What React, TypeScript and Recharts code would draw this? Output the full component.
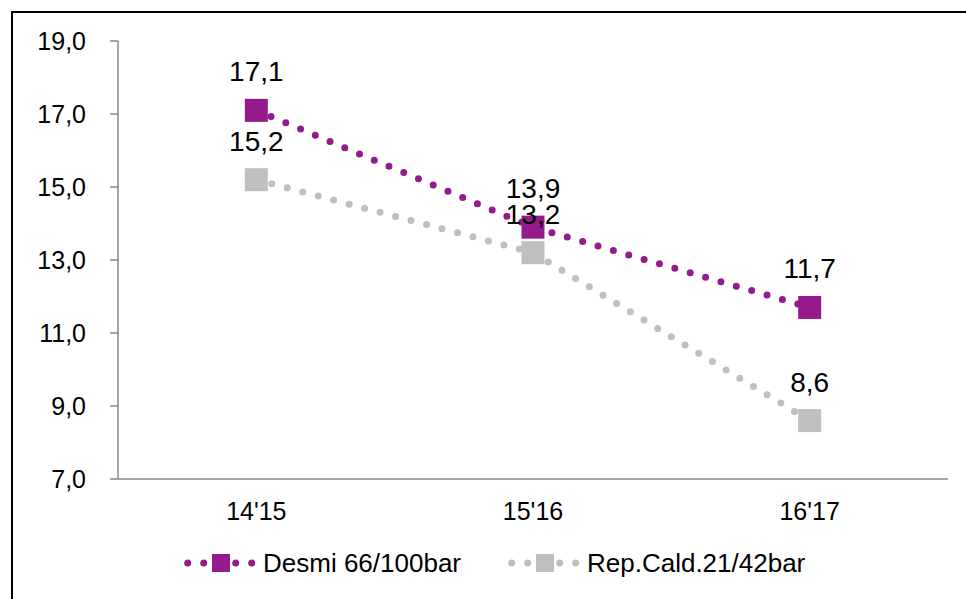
import React from 'react';
import { LineChart, Line, XAxis, YAxis, Legend, LabelList } from 'recharts';

const categories = ["14'15", "15'16", "16'17"];
const desmi = [17.1, 13.9, 11.7];
const repCald = [15.2, 13.2, 8.6];
const yTicks = [7, 9, 11, 13, 15, 17, 19];
const edgeTicks = [0, 1, 2, 3];

const seriesNames = ['Desmi 66/100bar', 'Rep.Cald.21/42bar'];
const seriesColors = ['#951B8D', '#BFBFBF'];

const data = categories.map((c, i) => ({ cat: c, desmi: desmi[i], rep: repCald[i] }));

const FONT = '"Liberation Sans", Arial, sans-serif';
const fmt = (v: number) => v.toFixed(1).replace('.', ',');

const SquareDot = (color: string, size: number) => (props: any) => {
  const { cx, cy, index } = props;
  if (cx == null || cy == null) return <g key={index} />;
  return <rect key={index} x={cx - size / 2} y={cy - size / 2} width={size} height={size} fill={color} />;
};

const LegendContent = () => (
  <div style={{ display: 'flex', alignItems: 'center', fontFamily: FONT, fontSize: 26, color: '#000' }}>
    {seriesNames.map((n, i) => (
      <div key={n} style={{ display: 'flex', alignItems: 'center', marginRight: i === 0 ? 47 : 0 }}>
        <svg width={79} height={24} style={{ display: 'block' }}>
          <line x1={3.7} y1={12} x2={68.7} y2={12} stroke={seriesColors[i]} strokeWidth={7} strokeDasharray="0 16" strokeLinecap="round" />
          <rect x={28} y={3} width={18} height={18} fill={seriesColors[i]} />
        </svg>
        <span style={{ lineHeight: '24px', whiteSpace: 'nowrap' }}>{n}</span>
      </div>
    ))}
  </div>
);

export default function App() {
  return (
    <div style={{ position: 'absolute', left: 0, top: 0, width: 966, height: 599, background: '#fff', overflow: 'hidden' }}>
      <div style={{ position: 'absolute', left: 11, top: 11, width: 955, height: 588, boxSizing: 'border-box', borderLeft: '2px solid #000', borderTop: '2px solid #000' }} />
      <div style={{ position: 'absolute', left: 0, top: 0 }}>
        <LineChart width={966} height={599} data={data} margin={{ top: 41, right: 18, left: 0, bottom: 80 }}>
          <XAxis
            xAxisId={0}
            type="number"
            domain={[0, 3]}
            ticks={edgeTicks}
            allowDataOverflow
            height={0}
            axisLine={false}
            tickSize={8}
            tickLine={{ stroke: '#888888', strokeWidth: 1.5 }}
            tick={() => <g />}
          />
          <XAxis
            xAxisId={1}
            dataKey="cat"
            type="category"
            scale="band"
            height={40}
            axisLine={{ stroke: '#888888', strokeWidth: 1.5 }}
            tickLine={false}
            tickSize={8}
            tickMargin={15}
            tick={{ fill: '#000', fontSize: 25, fontFamily: FONT }}
            interval={0}
          />
          <YAxis
            width={118}
            domain={[7, 19]}
            ticks={yTicks}
            interval={0}
            tickFormatter={fmt}
            axisLine={{ stroke: '#888888', strokeWidth: 1.5 }}
            tickLine={{ stroke: '#888888', strokeWidth: 1.5 }}
            tickSize={8}
            tickMargin={24}
            tick={{ fill: '#000', fontSize: 25, fontFamily: FONT }}
          />
          <Legend
            layout="horizontal"
            verticalAlign="middle"
            align="center"
            content={<LegendContent />}
            wrapperStyle={{ top: 551, left: 184, width: 'auto' }}
          />
          <Line
            xAxisId={1}
            dataKey="desmi"
            name={seriesNames[0]}
            stroke={seriesColors[0]}
            strokeWidth={7}
            strokeDasharray="0 16"
            strokeLinecap="round"
            dot={SquareDot(seriesColors[0], 23)}
            activeDot={false}
            isAnimationActive={false}
          >
            <LabelList dataKey="desmi" position="top" offset={29} formatter={(v: any) => fmt(Number(v))} style={{ fill: '#000', fontSize: 28, fontFamily: FONT }} />
          </Line>
          <Line
            xAxisId={1}
            dataKey="rep"
            name={seriesNames[1]}
            stroke={seriesColors[1]}
            strokeWidth={7}
            strokeDasharray="0 16"
            strokeLinecap="round"
            dot={SquareDot(seriesColors[1], 23)}
            activeDot={false}
            isAnimationActive={false}
          >
            <LabelList dataKey="rep" position="top" offset={29} formatter={(v: any) => fmt(Number(v))} style={{ fill: '#000', fontSize: 28, fontFamily: FONT }} />
          </Line>
        </LineChart>
      </div>
    </div>
  );
}
